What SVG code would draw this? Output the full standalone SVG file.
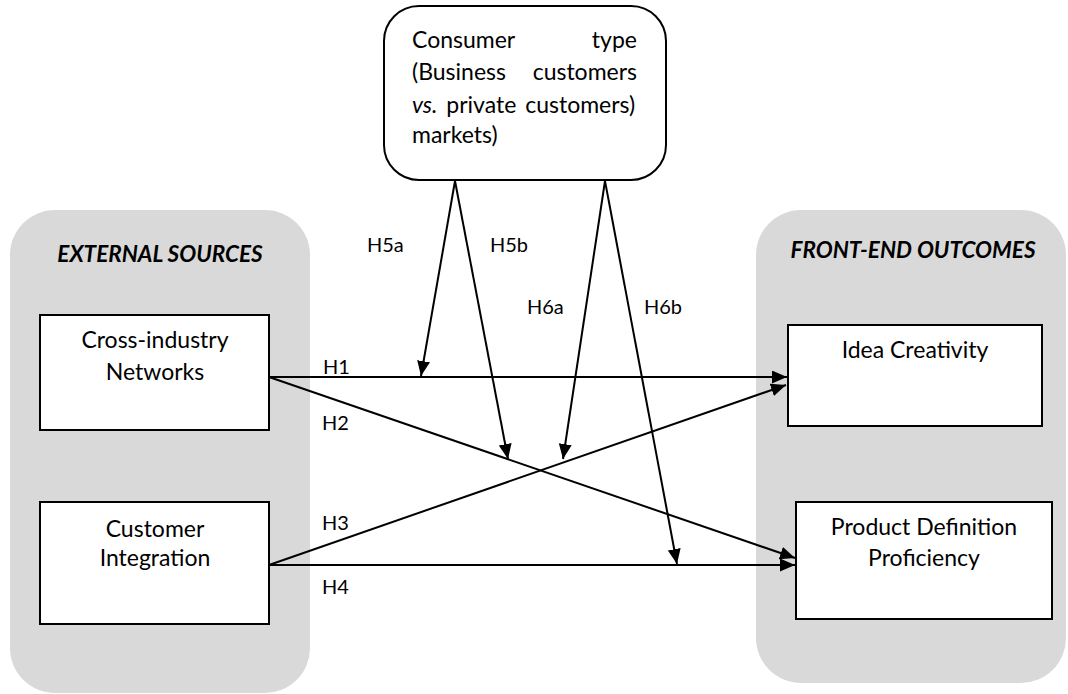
<svg xmlns="http://www.w3.org/2000/svg" width="1068" height="694" viewBox="0 0 1068 694">
<style>
.panel{fill:#d9d9d9;stroke:none}
.box{fill:#fff;stroke:#000;stroke-width:2}
.t{font-family:Lato,"Liberation Sans",sans-serif;font-size:23px;fill:#000}
.c{text-anchor:middle}
.h{font-family:Lato,"Liberation Sans",sans-serif;font-size:22.5px;font-weight:bold;font-style:italic;fill:#000}
.lab{font-family:Lato,"Liberation Sans",sans-serif;font-size:20px;fill:#000}
.ln{stroke:#000;stroke-width:2;fill:none;marker-end:url(#ah)}
</style>
<defs>
<marker id="ah" markerUnits="userSpaceOnUse" markerWidth="16" markerHeight="14" refX="15" refY="6.5" orient="auto">
<path d="M0,0 L15,6.5 L0,13 z" fill="#000"/>
</marker>
</defs>
<g id="external-sources">
<rect class="panel" x="10" y="210" width="300" height="483" rx="45"/>
<text class="h" x="160" y="262" text-anchor="middle">EXTERNAL SOURCES</text>
</g>
<g id="front-end-outcomes">
<rect class="panel" x="756" y="210" width="310" height="473" rx="45"/>
<text class="h" x="913" y="258" text-anchor="middle">FRONT-END OUTCOMES</text>
</g>
<g id="consumer-type">
<rect class="box" x="384" y="6" width="282" height="174" rx="35"/>
<text class="t" x="412" y="48">Consumer</text>
<text class="t" x="637" y="48" text-anchor="end">type</text>
<text class="t" x="412" y="80">(Business</text>
<text class="t" x="637" y="80" text-anchor="end">customers</text>
<text class="t" x="412" y="113" word-spacing="3"><tspan font-style="italic">vs.</tspan> private customers)</text>
<text class="t" x="412" y="143">markets)</text>
</g>
<g id="cross-industry">
<rect class="box" x="40" y="315" width="229" height="115"/>
<text class="t c" x="155" y="348">Cross-industry</text>
<text class="t c" x="155" y="380">Networks</text>
</g>
<g id="customer-integration">
<rect class="box" x="40" y="502" width="229" height="122"/>
<text class="t c" x="155" y="537">Customer</text>
<text class="t c" x="155" y="566">Integration</text>
</g>
<g id="idea-creativity">
<rect class="box" x="788" y="325" width="254" height="101"/>
<text class="t c" x="915" y="358">Idea Creativity</text>
</g>
<g id="product-definition">
<rect class="box" x="796" y="502" width="256" height="117"/>
<text class="t c" x="924" y="535">Product Definition</text>
<text class="t c" x="924" y="566">Proficiency</text>
</g>
<g id="connectors">
<line class="ln" x1="269" y1="377" x2="787" y2="377"/>
<line class="ln" x1="269" y1="377" x2="795" y2="558"/>
<line class="ln" x1="269" y1="565" x2="786" y2="385"/>
<line class="ln" x1="269" y1="565" x2="795" y2="565"/>
<line class="ln" x1="455" y1="181" x2="421" y2="376"/>
<line class="ln" x1="455" y1="181" x2="508" y2="459"/>
<line class="ln" x1="605" y1="181" x2="563" y2="459"/>
<line class="ln" x1="605" y1="181" x2="677" y2="564"/>
<text class="lab" x="367" y="252">H5a</text>
<text class="lab" x="490" y="252">H5b</text>
<text class="lab" x="527" y="314">H6a</text>
<text class="lab" x="644" y="314">H6b</text>
<text class="lab" x="323" y="374">H1</text>
<text class="lab" x="322" y="430">H2</text>
<text class="lab" x="322" y="530">H3</text>
<text class="lab" x="322" y="594">H4</text>
</g>
</svg>
